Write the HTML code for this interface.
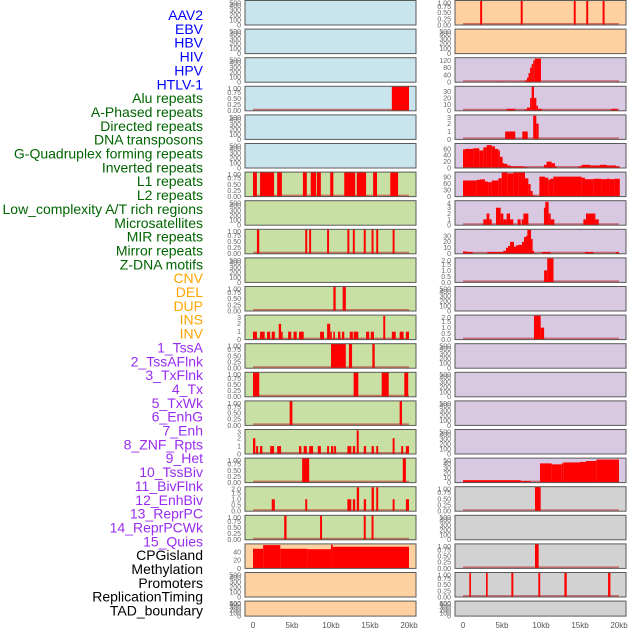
<!DOCTYPE html>
<html><head><meta charset="utf-8"><style>
html,body{margin:0;padding:0;background:#fff;}
svg{display:block;font-family:"Liberation Sans",sans-serif;}
</style></head>
<body>
<svg id="chart" width="630" height="630" viewBox="0 0 630 630" xmlns="http://www.w3.org/2000/svg">
<g id="labels"></g>
<g id="panels"></g>
<g id="xaxes"></g>
</svg>
<script>
// ---- label data ----
const labelNames = ["AAV2","EBV","HBV","HIV","HPV","HTLV-1","Alu repeats","A-Phased repeats","Directed repeats","DNA transposons","G-Quadruplex forming repeats","Inverted repeats","L1 repeats","L2 repeats","Low_complexity A/T rich regions","Microsatellites","MIR repeats","Mirror repeats","Z-DNA motifs","CNV","DEL","DUP","INS","INV","1_TssA","2_TssAFlnk","3_TxFlnk","4_Tx","5_TxWk","6_EnhG","7_Enh","8_ZNF_Rpts","9_Het","10_TssBiv","11_BivFlnk","12_EnhBiv","13_ReprPC","14_ReprPCWk","15_Quies","CPGisland","Methylation","Promoters","ReplicationTiming","TAD_boundary"];
const labelGroups = ["v","v","v","v","v","v","r","r","r","r","r","r","r","r","r","r","r","r","r","c","c","c","c","c","s","s","s","s","s","s","s","s","s","s","s","s","s","s","s","o","o","o","o","o"];
const groupColors = {v:"#0000ff", r:"#006400", c:"#ffa500", s:"#9a2cf0", o:"#000000"};

// ---- x axis ----
const xTickVals = [0,5,10,15,20];
const xTickLabels = ["0","5kb","10kb","15kb","20kb"];

// ---- tick sets ----
const ticksEmpty = [0,100,200,300,400,500];
const ticks01 = [0,0.25,0.5,0.75,1];
const ticks02 = [0,0.5,1,1.5,2];
const ticks03 = [0,1,2,3];
const ticks04 = [0,1,2,3,4];

// ---- left column bars [startKb, endKb, value] ----
const left_r03 = [[17.8,20,1]];
const left_r06 = [[0,0.5,1],[0.9,2.7,1],[3.1,3.7,1],[6.4,6.9,1],[7.4,8.1,1],[8.2,8.7,1],[9.9,10.3,1],[11.7,13.1,1],[13.3,14.5,1],[15.4,15.9,1],[17.6,18.6,1]];
const left_r08 = [[0.5,0.8,1],[6.7,6.95,1],[7.2,7.45,1],[9.5,9.75,1],[12.1,12.35,1],[12.8,13.05,1],[14.2,14.45,1],[15.2,15.45,1],[15.8,16.05,1],[17.9,18.15,1]];
const left_r10 = [[10.3,10.6,1],[11.5,11.9,1]];
const left_r11 = [[0,0.5,1],[0.9,1.5,1],[1.8,2.2,1],[2.4,2.8,1],[3.3,3.6,2],[3.6,3.8,1],[4.5,4.9,1],[5.2,5.6,1],[5.9,6.5,1],[8.6,9.1,1],[9.5,9.9,2],[9.9,10.1,1],[10.3,10.5,1],[10.9,11.2,1],[11.4,11.7,1],[12.4,12.8,1],[12.9,13.5,1],[14.5,14.9,1],[15.1,15.5,1],[16.7,16.95,3],[17.8,18.3,1],[18.8,19.3,1],[19.6,20,1]];
const left_r12 = [[10.0,11.9,1],[12.3,12.7,1],[15.3,15.6,1]];
const left_r13 = [[0,0.8,1],[12.9,13.5,1],[16.5,17.4,1],[19.4,19.9,1]];
const left_r14 = [[4.7,5.05,1],[18.8,19.1,1]];
const left_r15 = [[0,0.3,2],[0.4,0.65,1],[0.9,1.2,1],[2.2,2.7,1],[3.1,3.6,1],[5.9,6.2,1],[6.5,6.9,1],[7.2,7.7,1],[8.3,8.7,1],[9.5,9.75,1],[10.0,10.3,1],[10.4,10.65,1],[12.1,12.6,1],[12.8,13.1,1],[13.3,13.55,3],[14.2,14.5,1],[15.2,15.5,1],[15.8,16.05,1],[17.9,18.15,2],[19.0,19.25,1],[19.6,20,1]];
const left_r16 = [[6.3,7.2,1],[19.2,19.6,1]];
const left_r17 = [[2.4,2.8,1],[6.7,6.95,1],[12.1,12.6,1],[12.8,13.1,1],[13.3,13.6,2],[14.2,14.5,1],[15.2,15.5,2],[15.8,16.05,2],[17.9,18.15,1],[19.6,20,1]];
const left_r18 = [[4.0,4.3,1],[8.6,8.85,1],[14.2,14.45,1],[15.2,15.45,1]];
const left_r19 = [[0,1.3,48],[1.3,3.5,57],[3.5,7,48],[7,10,47],[10,10.2,58],[10.2,20,53]];

// ---- right column bars ----
const right_r00 = [[2.2,2.45,1],[7.4,7.65,1],[14.2,14.45,1],[15.8,16.05,1],[17.9,18.15,1]];
const right_r02 = [[4.3,5.0,3],[6.4,7.8,2],[7.8,8.0,5],[8.0,8.2,10],[8.2,8.4,25],[8.4,8.6,50],[8.6,8.8,80],[8.8,9.0,100],[9.0,9.2,120],[9.2,10.0,130]];
const right_r03 = [[5.6,6.7,3],[7.9,8.2,2],[8.2,8.6,5],[8.6,8.8,20],[8.8,9.1,38],[9.1,9.4,20],[9.4,9.5,8],[9.5,10.1,3],[19.0,19.8,3]];
const right_r04 = [[5.4,6.7,1],[7.6,8.3,1],[9.0,9.4,3],[9.4,9.7,2]];
const right_r05 = [[0,0.26,58],[0.26,1.33,60],[1.33,2.09,62],[2.09,2.6,55],[2.6,3.03,65],[3.03,3.68,72],[3.68,4.1,68],[4.1,4.53,60],[4.53,4.74,55],[4.74,5.08,35],[5.08,5.26,15],[5.26,5.68,13],[5.68,6.11,8],[6.11,7.74,5],[7.74,8.25,3],[10.38,10.72,10],[10.72,11.36,20],[11.36,11.79,15],[11.79,12.0,5],[14.8,15.2,5],[15.2,16.3,10],[16.3,17.56,8],[17.56,18.4,10],[18.4,19.6,8],[19.6,20.1,5]];
const right_r06 = [[0,1.75,75],[1.75,2.18,78],[2.18,2.82,80],[2.82,3.25,70],[3.25,3.68,67],[3.68,4.53,75],[4.53,4.96,85],[4.96,5.68,112],[5.68,6.45,108],[6.45,7.09,112],[7.09,7.95,112],[7.95,8.38,85],[8.38,8.67,58],[8.67,8.93,26],[8.93,9.23,5],[9.23,9.79,2],[9.79,10.51,93],[10.51,10.94,88],[10.94,11.15,78],[11.15,11.58,83],[11.58,15.21,93],[15.21,15.64,88],[15.64,16.7,81],[16.7,17.77,83],[17.77,18.4,81],[18.4,18.84,83],[18.84,19.4,81],[19.4,20.1,83]];
const right_r07 = [[2.6,3.03,1],[3.03,3.38,2],[3.38,3.68,1],[4.23,4.83,3],[4.83,5.17,2],[5.17,5.6,1],[5.6,6.03,2],[6.03,6.45,1],[7.0,7.39,1],[7.52,7.74,1],[7.74,8.38,2],[10.38,10.55,3],[10.55,10.98,4],[10.98,11.24,2],[11.24,11.71,1],[15.43,15.77,1],[15.77,16.97,2],[16.97,17.4,1]];
const right_r08 = [[0,0.47,4],[0.47,1.24,3],[3.12,5.17,3],[5.17,5.51,5],[5.51,5.77,10],[5.77,6.03,13],[6.03,6.54,20],[6.54,6.79,12],[6.79,7.05,14],[7.05,7.56,15],[7.56,7.82,20],[7.82,8.08,28],[8.08,8.25,30],[8.25,8.72,40],[8.72,8.85,25],[8.85,9.1,5],[10.13,11.24,3],[15.64,16.7,3],[19.6,20.0,3]];
const right_r09 = [[10.4,10.8,1],[10.8,11.6,2]];
const right_r11 = [[9.1,9.96,2],[9.96,10.4,1]];
const right_r16 = [[0,7.4,5],[7.4,8.67,3],[9.87,11.36,40],[11.36,12.65,38],[12.65,12.86,40],[12.86,15.0,42],[15.0,15.77,43],[15.77,17.1,45],[17.1,20.0,48]];
const right_r17 = [[9.23,9.96,1]];
const right_r19 = [[9.23,9.7,1]];
const right_r20 = [[0.81,1.02,1],[2.95,3.16,1],[6.2,6.45,1],[9.66,9.9,1],[13.0,13.3,1],[18.6,18.9,1]];

// ---- panel specifications ----
const BG = {blue:"#c8e4ec", green:"#c8e0a4", peach:"#ffd1a0", purple:"#d8c8e2", gray:"#d2d2d2"};
const panels = [];
function P(col,row,bg,ymax,ticks,dec,bars){panels.push({col,row,bg,ymax,ticks,dec,bars});}
P(0,0,"blue",500,ticksEmpty,0,null);
P(0,1,"blue",500,ticksEmpty,0,null);
P(0,2,"blue",500,ticksEmpty,0,null);
P(0,3,"blue",1,ticks01,2,left_r03);
P(0,4,"blue",500,ticksEmpty,0,null);
P(0,5,"blue",500,ticksEmpty,0,null);
P(0,6,"green",1,ticks01,2,left_r06);
P(0,7,"green",500,ticksEmpty,0,null);
P(0,8,"green",1,ticks01,2,left_r08);
P(0,9,"green",500,ticksEmpty,0,null);
P(0,10,"green",1,ticks01,2,left_r10);
P(0,11,"green",3.1,ticks03,0,left_r11);
P(0,12,"green",1,ticks01,2,left_r12);
P(0,13,"green",1,ticks01,2,left_r13);
P(0,14,"green",1,ticks01,2,left_r14);
P(0,15,"green",3.1,ticks03,0,left_r15);
P(0,16,"green",1,ticks01,2,left_r16);
P(0,17,"green",2.05,ticks02,1,left_r17);
P(0,18,"green",1,ticks01,2,left_r18);
P(0,19,"peach",60,[0,20,40],0,left_r19);
P(0,20,"peach",500,ticksEmpty,0,null);
P(0,21,"peach",500,ticksEmpty,0,null);
P(1,0,"peach",1,ticks01,2,right_r00);
P(1,1,"peach",500,ticksEmpty,0,null);
P(1,2,"purple",135,[0,40,80,120],0,right_r02);
P(1,3,"purple",38,[0,10,20,30],0,right_r03);
P(1,4,"purple",3.1,ticks03,0,right_r04);
P(1,5,"purple",77,[0,20,40,60],0,right_r05);
P(1,6,"purple",114,[0,30,60,90],0,right_r06);
P(1,7,"purple",4.2,ticks04,0,right_r07);
P(1,8,"purple",41,[0,10,20,30],0,right_r08);
P(1,9,"purple",2.05,ticks02,1,right_r09);
P(1,10,"purple",500,ticksEmpty,0,null);
P(1,11,"purple",2.05,ticks02,1,right_r11);
P(1,12,"purple",500,ticksEmpty,0,null);
P(1,13,"purple",500,ticksEmpty,0,null);
P(1,14,"purple",500,ticksEmpty,0,null);
P(1,15,"purple",500,ticksEmpty,0,null);
P(1,16,"purple",51,[0,10,20,30,40,50],0,right_r16);
P(1,17,"gray",1,ticks01,2,right_r17);
P(1,18,"gray",500,ticksEmpty,0,null);
P(1,19,"gray",1,ticks01,2,right_r19);
P(1,20,"gray",1,ticks01,2,right_r20);
P(1,21,"gray",500,ticksEmpty,0,null);

// ---- rendering ----
const NS = "http://www.w3.org/2000/svg";
function el(tag, attrs, parent){const e=document.createElementNS(NS,tag);for(const k in attrs)e.setAttribute(k,attrs[k]);parent.appendChild(e);return e;}
const colLeft = [245,455];
const colWidth = 171;
const dataX0 = [253,463];
const pxPerKb = 7.8;
function xScale(col,kb){return dataX0[col]+kb*pxPerKb;}
function rowTop(r){return 0.5+28.6*r;}
function rowH(r){return r===21?15:24.5;}

const gl = document.getElementById("labels");
labelNames.forEach((n,i)=>{
  const t = el("text",{x:203,y:20+i*13.85,"text-anchor":"end","font-size":"14",fill:groupColors[labelGroups[i]]},gl);
  
  
  t.textContent = n;
});

const gp = document.getElementById("panels");
panels.forEach(p=>{
  const g = el("g",{},gp);
  
  
  const top=rowTop(p.row), h=rowH(p.row), bottom=top+h, left=colLeft[p.col];
  const yS = v => bottom - (v/p.ymax)*h;
  const bg = el("rect",{x:left,y:top,width:colWidth,height:h,fill:BG[p.bg]},g);
  
  
  if(p.bars){
    const base = el("line",{x1:xScale(p.col,0),x2:xScale(p.col,20),y1:bottom-1,y2:bottom-1,stroke:"rgba(190,30,30,0.55)","stroke-width":2},g);
    
    
    p.bars.forEach(b=>{
      const x1=xScale(p.col,b[0]), x2=xScale(p.col,b[1]), y=yS(b[2]);
      const r = el("rect",{x:x1,y:y,width:Math.max(1.6,x2-x1),height:bottom-y,fill:"#ff0000"},g);
      
      
    });
  }
  const fr = el("rect",{x:left,y:top,width:colWidth,height:h,fill:"none",stroke:"#5a5a5a","stroke-width":1},g);
  
  
  p.ticks.forEach(v=>{
    let y=yS(v); if(y<top+2.5) y=top+2.5;
    const t = el("text",{x:left-4,y:y+2.4,"text-anchor":"end","font-size":"7",fill:"#666"},g);
    
    
    t.textContent = v.toFixed(p.dec);
  });
});

const gx = document.getElementById("xaxes");
[0,1].forEach(col=>{
  xTickVals.forEach((v,i)=>{
    const t = el("text",{x:xScale(col,v),y:628,"text-anchor":"middle","font-size":"8",fill:"#555"},gx);
    
    
    t.textContent = xTickLabels[i];
  });
});
</script>
</body></html>
